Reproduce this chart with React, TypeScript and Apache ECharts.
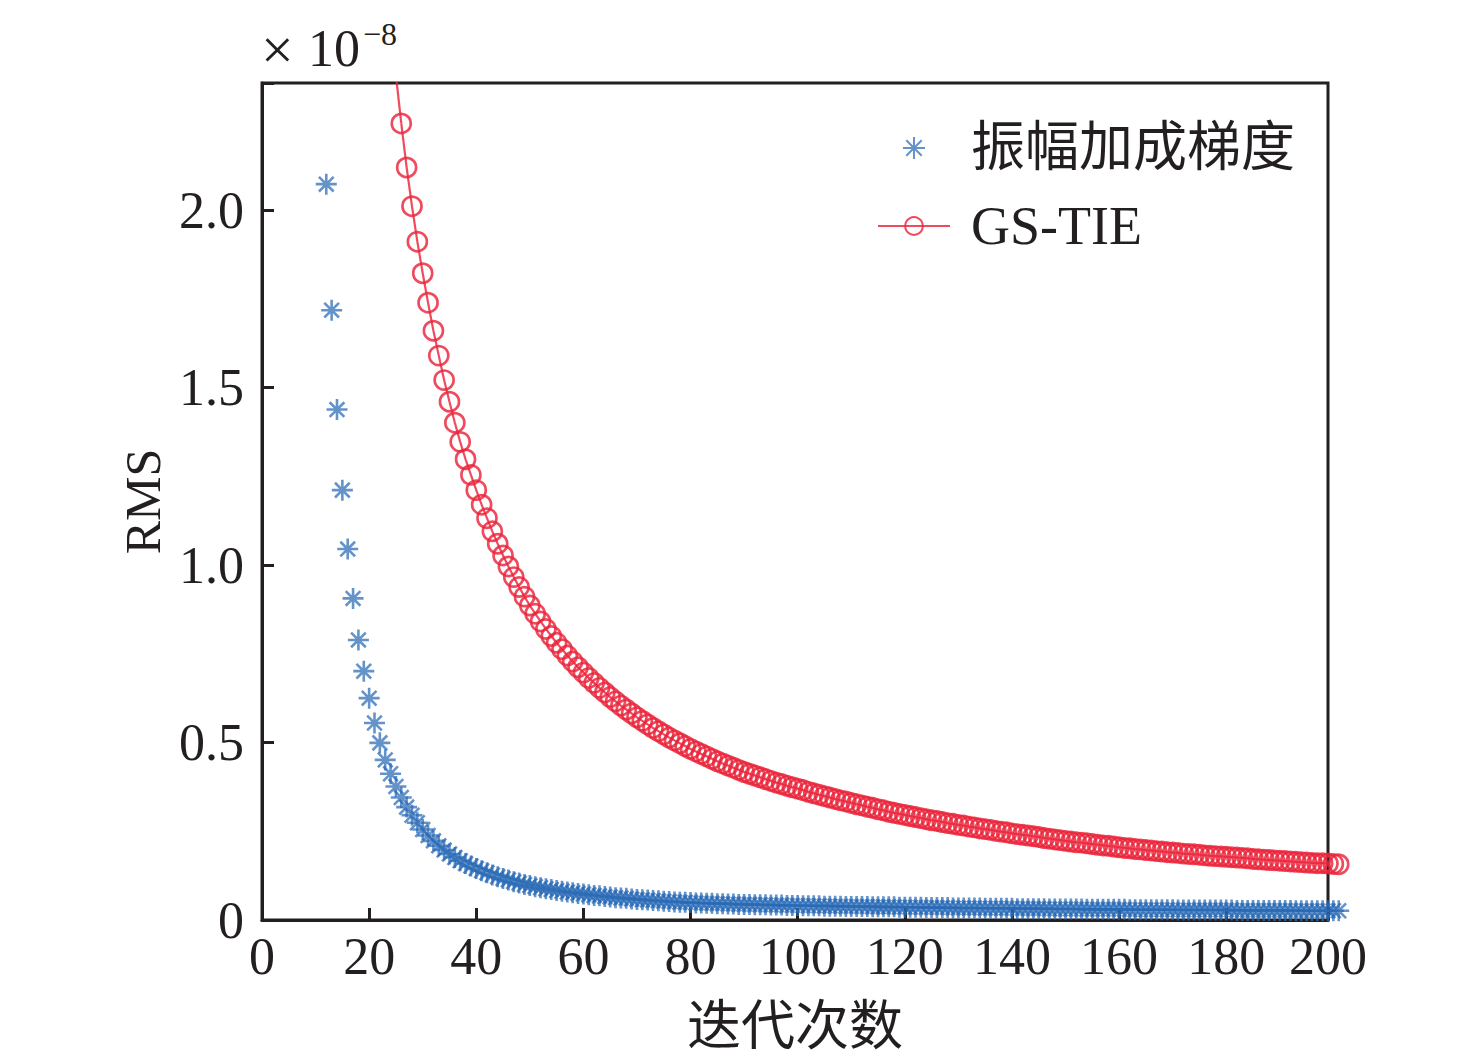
import React, { useEffect, useRef } from "react";
import * as echarts from "echarts";

// ---- data (RMS values in units of 1e-8) ----
const BLUE_NAME = "振幅加成梯度";
const RED_NAME = "GS-TIE";
const X_AXIS_NAME = "迭代次数";
const Y_AXIS_NAME = "RMS";

const BLUE_FIRST_ITER = 12;
const blueRms = [
  2.073, 1.718, 1.438, 1.211, 1.045, 0.906, 0.789, 0.701, 0.625, 0.555, 0.499, 0.451, 0.412, 0.376,
  0.345, 0.318, 0.295, 0.274, 0.255, 0.238, 0.223, 0.209, 0.197, 0.186,
  0.176, 0.167, 0.159, 0.152, 0.145, 0.139, 0.133, 0.127, 0.122, 0.117,
  0.113, 0.108, 0.104, 0.100, 0.097, 0.094, 0.091, 0.088, 0.086, 0.083,
  0.081, 0.079, 0.077, 0.075, 0.073, 0.071, 0.069, 0.068, 0.066, 0.065,
  0.063, 0.062, 0.061, 0.059, 0.058, 0.057, 0.056, 0.055, 0.054, 0.053,
  0.052, 0.051, 0.050, 0.050, 0.049, 0.048, 0.048, 0.047, 0.047, 0.046,
  0.046, 0.045, 0.045, 0.044, 0.044, 0.044, 0.043, 0.043, 0.043, 0.042,
  0.042, 0.042, 0.041, 0.041, 0.041, 0.040, 0.040, 0.040, 0.040, 0.039,
  0.039, 0.039, 0.039, 0.038, 0.038, 0.038, 0.038, 0.038, 0.037, 0.037,
  0.037, 0.037, 0.037, 0.036, 0.036, 0.036, 0.036, 0.036, 0.035, 0.035,
  0.035, 0.035, 0.035, 0.034, 0.034, 0.034, 0.034, 0.034, 0.034, 0.033,
  0.033, 0.033, 0.033, 0.033, 0.033, 0.032, 0.032, 0.032, 0.032, 0.032,
  0.032, 0.031, 0.031, 0.031, 0.031, 0.031, 0.031, 0.031, 0.030, 0.030,
  0.030, 0.030, 0.030, 0.030, 0.030, 0.030, 0.029, 0.029, 0.029, 0.029,
  0.029, 0.029, 0.029, 0.029, 0.029, 0.028, 0.028, 0.028, 0.028, 0.028,
  0.028, 0.028, 0.028, 0.028, 0.028, 0.028, 0.027, 0.027, 0.027, 0.027,
  0.027, 0.027, 0.027, 0.027, 0.027, 0.027, 0.027, 0.026, 0.026, 0.026,
  0.026, 0.026, 0.026, 0.026, 0.026, 0.026,
];

const RED_FIRST_ITER = 25;
const redRms = [
  2.380,
  2.244, 2.120, 2.011, 1.911, 1.822, 1.739, 1.660, 1.590, 1.521, 1.460,
  1.401, 1.347, 1.298, 1.254, 1.211, 1.170, 1.132, 1.095, 1.060, 1.027,
  0.996, 0.966, 0.938, 0.911, 0.886,
  0.863, 0.841, 0.820, 0.800, 0.781, 0.763, 0.745, 0.728, 0.712, 0.697,
  0.682, 0.668, 0.654, 0.641, 0.628, 0.616, 0.604, 0.593, 0.582, 0.571,
  0.561, 0.551, 0.541, 0.532, 0.523, 0.514, 0.506, 0.498, 0.490, 0.482,
  0.475, 0.468, 0.461, 0.454, 0.447, 0.441, 0.435, 0.429, 0.423, 0.417,
  0.412, 0.407, 0.402, 0.397, 0.392, 0.387, 0.383, 0.378, 0.374, 0.370,
  0.366, 0.361, 0.357, 0.353, 0.349, 0.345, 0.341, 0.337, 0.334, 0.330,
  0.326, 0.323, 0.319, 0.316, 0.312, 0.309, 0.305, 0.302, 0.299, 0.296,
  0.293, 0.290, 0.287, 0.284, 0.281, 0.279, 0.276, 0.273, 0.271, 0.268,
  0.266, 0.263, 0.261, 0.258, 0.256, 0.254, 0.251, 0.249, 0.247, 0.244,
  0.242, 0.240, 0.238, 0.236, 0.234, 0.231, 0.229, 0.227, 0.225, 0.223,
  0.221, 0.219, 0.218, 0.216, 0.214, 0.212, 0.210, 0.209, 0.207, 0.205,
  0.203, 0.202, 0.200, 0.199, 0.197, 0.196, 0.194, 0.193, 0.191, 0.190,
  0.189, 0.187, 0.186, 0.185, 0.184, 0.182, 0.181, 0.180, 0.179, 0.178,
  0.177, 0.176, 0.175, 0.174, 0.172, 0.171, 0.170, 0.169, 0.168, 0.167,
  0.166, 0.165, 0.164, 0.163, 0.162, 0.161, 0.160, 0.160, 0.159, 0.158, 0.157,
];

const X_MIN = 0;
const X_MAX = 199;
const X_INTERVAL = 20;
const X_LAST_TICK_LABEL = "200";
const Y_MIN = 0;
const Y_MAX = 2.358;
const Y_INTERVAL = 0.5;
const SCALE_PREFIX = "×";
const SCALE_BASE = "10";
const SCALE_EXP = "−8";

// ---- styles ----
const SERIF = "'Liberation Serif', 'Times New Roman', 'Noto Sans CJK SC', serif";
const INK = "#231f20";
const BLUE = "rgba(40,106,182,0.9)";
const RED = "rgba(234,36,58,0.82)";
const ASTERISK = "path://M10,0L10,20M0,10L20,10M3,3L17,17M3,17L17,3";

export default function App() {
  const ref = useRef<HTMLDivElement>(null);

  useEffect(() => {
    if (!ref.current) return;
    const chart = echarts.init(ref.current, null, { renderer: "svg" });

    const blueData = blueRms.map((v, i) => [BLUE_FIRST_ITER + i, v]);
    const redData = redRms.map((v, i) => [RED_FIRST_ITER + i, v]);

    const option: any = {
      animation: false,
      backgroundColor: "#fff",
      grid: {
        left: 262,
        top: 83,
        right: 148,
        bottom: 140,
        show: true,
        borderColor: INK,
        borderWidth: 3,
        containLabel: false,
        outerBoundsMode: "none",
      },
      legend: {
        orient: "vertical",
        left: 877,
        top: 118,
        padding: 0,
        itemGap: 18,
        itemWidth: 72,
        itemHeight: 22,
        symbolKeepAspect: true,
        data: [BLUE_NAME, RED_NAME],
        textStyle: {
          fontFamily: SERIF,
          fontSize: 54,
          color: INK,
          lineHeight: 60,
          padding: [0, 0, 0, 16],
        },
      },
      xAxis: {
        type: "value",
        min: X_MIN,
        max: X_MAX,
        interval: X_INTERVAL,
        name: X_AXIS_NAME,
        nameLocation: "middle",
        nameGap: 80,
        nameTextStyle: { fontFamily: SERIF, fontSize: 54, color: INK },
        axisLine: { show: true, lineStyle: { color: INK, width: 3 } },
        axisTick: { show: true, inside: true, length: 12, lineStyle: { color: INK, width: 3 } },
        splitLine: { show: false },
        axisLabel: {
          fontFamily: SERIF,
          fontSize: 52,
          color: INK,
          margin: 10,
          formatter: (v: number) => (v === X_MAX ? X_LAST_TICK_LABEL : String(v)),
        },
      },
      yAxis: {
        type: "value",
        min: Y_MIN,
        max: Y_MAX,
        interval: Y_INTERVAL,
        name: Y_AXIS_NAME,
        nameLocation: "middle",
        nameRotate: 90,
        nameGap: 90,
        nameTextStyle: { fontFamily: SERIF, fontSize: 50, color: INK },
        axisLine: { show: true, lineStyle: { color: INK, width: 3 } },
        axisTick: { show: true, inside: true, length: 12, lineStyle: { color: INK, width: 3 } },
        splitLine: { show: false },
        axisLabel: {
          fontFamily: SERIF,
          fontSize: 52,
          color: INK,
          margin: 18,
          formatter: (v: number) => {
            const k = v / Y_INTERVAL;
            if (Math.abs(k - Math.round(k)) > 1e-6) return "";
            return v === 0 ? "0" : v.toFixed(1);
          },
        },
      },
      graphic: [
        {
          type: "text",
          left: 261,
          top: 20,
          style: { text: SCALE_PREFIX, font: `58px ${SERIF}`, fill: INK },
        },
        {
          type: "text",
          left: 308,
          top: 22,
          style: { text: SCALE_BASE, font: `52px ${SERIF}`, fill: INK },
        },
        {
          type: "text",
          left: 363,
          top: 18,
          style: { text: SCALE_EXP, font: `32px ${SERIF}`, fill: INK },
        },
      ],
      series: [
        {
          name: RED_NAME + "-head",
          type: "line",
          data: redData.slice(0, 2),
          symbol: "none",
          clip: true,
          silent: true,
          lineStyle: { color: RED, width: 2.2 },
          z: 3,
        },
        {
          name: BLUE_NAME,
          type: "scatter",
          data: blueData,
          symbol: ASTERISK,
          symbolSize: 21,
          clip: false,
          itemStyle: { color: BLUE, borderColor: BLUE, borderWidth: 2.6 },
          z: 2,
        },
        {
          name: RED_NAME,
          type: "line",
          data: redData.slice(1),
          symbol: "circle",
          symbolSize: 19,
          showSymbol: true,
          showAllSymbol: true,
          clip: false,
          lineStyle: { color: RED, width: 2.2 },
          itemStyle: { color: "rgba(255,255,255,0)", borderColor: RED, borderWidth: 2.7 },
          z: 3,
        },
      ],
    };

    chart.setOption(option);
    return () => chart.dispose();
  }, []);

  return (
    <div
      ref={ref}
      style={{ position: "absolute", left: 0, top: 0, width: 1476, height: 1060, background: "#fff" }}
    />
  );
}
